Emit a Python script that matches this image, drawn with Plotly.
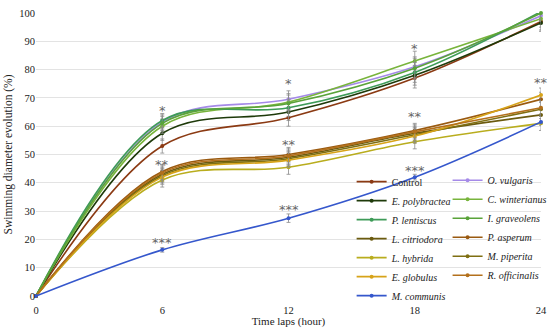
import plotly.graph_objects as go

times = [0, 6, 12, 18, 24]
tick_vals = [0, 6, 12, 18, 24]

series_names = ["Control", "<i>O. vulgaris</i>", "<i>E. polybractea</i>", "<i>C. winterianus</i>",
                "<i>P. lentiscus</i>", "<i>I. graveolens</i>", "<i>L. citriodora</i>", "<i>P. asperum</i>",
                "<i>L. hybrida</i>", "<i>M. piperita</i>", "<i>E. globulus</i>", "<i>R. officinalis</i>",
                "<i>M. communis</i>"]

control = [0, 53, 63, 77, 97]
o_vulgaris = [0, 61.5, 69.5, 81, 99]
e_polybractea = [0, 57.5, 65, 78, 96.5]
c_winterianus = [0, 60, 68.5, 83, 98]
p_lentiscus = [0, 62, 66.5, 79, 100.5]
i_graveolens = [0, 61, 68, 80.5, 100]
l_citriodora = [0, 43, 49, 57.5, 64]
p_asperum = [0, 44, 50, 58.5, 69.5]
l_hybrida = [0, 41, 45.5, 54.5, 61]
m_piperita = [0, 42.5, 48.5, 57, 66]
e_globulus = [0, 42, 48, 56.5, 71]
r_officinalis = [0, 43.5, 49.5, 58, 66.5]
m_communis = [0, 16.3, 27.5, 42, 61.5]

err_top = [0, 2.5, 3, 3.5, 3]
err_low = [0, 2.5, 2.5, 2.5, 2.5]
err_mc = [0, 0.8, 1.5, 1, 1.2]

sig_x = [6, 6, 6, 12, 12, 12, 18, 18, 18, 24, 24]
sig_y = [65.5, 46.5, 19, 75, 53.5, 30.5, 87.5, 63.5, 44.5, 102.5, 75.5]
sig_text = ["*", "**", "***", "*", "**", "***", "*", "**", "***", "*", "**"]

series = [control, o_vulgaris, e_polybractea, c_winterianus, p_lentiscus, i_graveolens,
          l_citriodora, p_asperum, l_hybrida, m_piperita, e_globulus, r_officinalis, m_communis]
colors = ["#8b3a13", "#a58ae8", "#1e3a0a", "#78b43c", "#3e9b58", "#5aa33a",
          "#6b5b0f", "#9a5a10", "#b9ad1e", "#7f6f12", "#d7a319", "#b3701c", "#3557cc"]
errors = [err_top] * 6 + [err_low] * 6 + [err_mc]
legend_ids = ["legend", "legend2"] * 6 + ["legend"]

FONT = "Liberation Serif"

fig = go.Figure()
for name, vals, col, err, lg in zip(series_names, series, colors, errors, legend_ids):
    fig.add_trace(go.Scatter(
        x=times, y=vals, name=name, mode="lines+markers",
        line=dict(color=col, width=1.6, shape="spline", smoothing=1),
        marker=dict(color=col, size=4),
        error_y=dict(type="data", array=err, color="#8a8a8a", thickness=0.8, width=2),
        legend=lg, cliponaxis=False,
    ))

for sx, sy, st in zip(sig_x, sig_y, sig_text):
    fig.add_annotation(x=sx, y=sy, text=st, showarrow=False,
                       font=dict(family="DejaVu Sans", size=13, color="#666666"),
                       xanchor="center", yanchor="middle")

fig.update_layout(
    width=550, height=333,
    margin=dict(l=36, r=9, t=13, b=37, autoexpand=False),
    paper_bgcolor="white", plot_bgcolor="white",
    font=dict(family=FONT, size=10.5, color="#222"),
    showlegend=True,
    legend=dict(x=0.625, y=-0.05, xanchor="left", yanchor="bottom",
                bgcolor="rgba(0,0,0,0)", font=dict(family=FONT, size=10),
                tracegroupgap=0, itemwidth=30),
    legend2=dict(x=0.815, y=0.46, xanchor="left", yanchor="top",
                 bgcolor="rgba(0,0,0,0)", font=dict(family=FONT, size=10),
                 tracegroupgap=0, itemwidth=30),
    xaxis=dict(range=[0, 24], tickvals=tick_vals, showgrid=False, zeroline=False,
               showline=False, ticks="", automargin=False, ticklabelstandoff=6,
               title=dict(text="Time laps (hour)", standoff=2, font=dict(size=11)),
               tickfont=dict(size=10.5)),
    yaxis=dict(range=[0, 100], dtick=10, showgrid=True, gridcolor="#e3e3e3", gridwidth=1,
               zeroline=False, showline=False, ticks="", automargin=False,
               title=dict(text="Swimming diameter evolution (%)", standoff=4, font=dict(size=11.5)),
               tickfont=dict(size=10.5)),
)

fig.write_html("out.html", config={"displayModeBar": False},
               post_script="document.body.style.margin='0';")
